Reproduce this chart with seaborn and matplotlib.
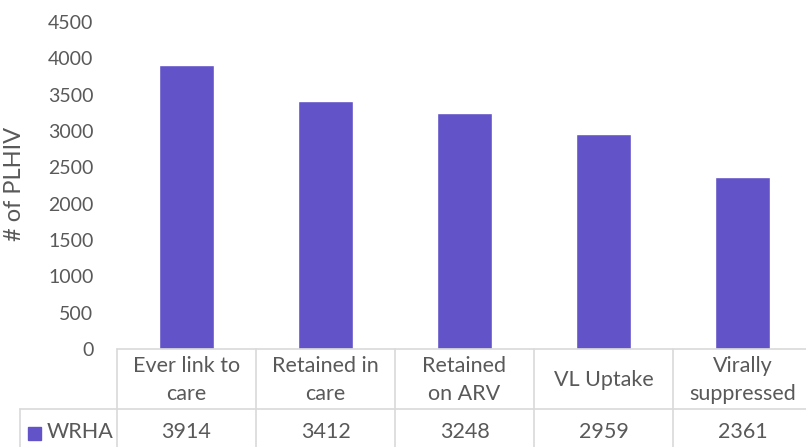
import matplotlib
matplotlib.use("Agg")
import matplotlib.pyplot as plt
import seaborn as sns
import pandas as pd
from matplotlib.lines import Line2D
from matplotlib.patches import Rectangle

categories = ["Ever link to\ncare", "Retained in\ncare", "Retained\non ARV", "VL Uptake", "Virally\nsuppressed"]
values = [3914, 3412, 3248, 2959, 2361]
series_name = "WRHA"
yticks = [0, 500, 1000, 1500, 2000, 2500, 3000, 3500, 4000, 4500]

sns.set_style("white")
plt.rcParams['font.family'] = ['Lato', 'DejaVu Sans']

W, H = 806, 447
fig = plt.figure(figsize=(W / 100, H / 100), dpi=100)
left, right, top, bottom = 117, 812, 22, 349
ax = fig.add_axes([left / W, (H - bottom) / H, (right - left) / W, (bottom - top) / H])

bar_color = "#6253C8"
grey = "#595959"
line_c = "#D9D9D9"

df = pd.DataFrame({"cat": categories, "val": values})
sns.barplot(data=df, x="cat", y="val", color=bar_color, width=0.4, ax=ax, saturation=1)
ax.set_xlim(-0.5, len(categories) - 0.5)
ax.set_ylim(0, 4500)
ax.set_yticks(yticks)
ax.set_yticklabels([str(t) for t in yticks], fontsize=14, color=grey)
ax.tick_params(axis="y", length=0, pad=17)
ax.set_xticks([])
ax.set_xlabel("")
ax.set_ylabel("# of PLHIV", fontsize=17, color=grey)
ax.yaxis.set_label_coords((25 - left) / (right - left), 0.505)
for s in ax.spines.values():
    s.set_visible(False)

# data table below the plot
def fy(py):
    return 1 - py / H

def fx(px):
    return px / W

row1_top, row1_bot, row2_bot = 349, 409, 460
col_w = (right - left) / len(categories)
lines = []
lines.append(((left, right), (row1_top, row1_top)))
lines.append(((20, right), (row1_bot, row1_bot)))
lines.append(((20, 20), (row1_bot, row2_bot)))
for i in range(len(categories) + 1):
    x = left + i * col_w
    lines.append(((x, x), (row1_top, row2_bot)))
for xs, ys in lines:
    fig.add_artist(Line2D([fx(xs[0]), fx(xs[1])], [fy(ys[0]), fy(ys[1])],
                          color=line_c, lw=1.2))

for i, (c, v) in enumerate(zip(categories, values)):
    cx = left + (i + 0.5) * col_w
    fig.text(fx(cx), fy((row1_top + row1_bot) / 2 + 1), c, ha="center", va="center",
             fontsize=15.5, color=grey, linespacing=1.55)
    fig.text(fx(cx), fy(432), str(v), ha="center", va="center", fontsize=15.5, color=grey)

fig.add_artist(Rectangle((fx(28), fy(440)), 13 / W, 13 / H, transform=fig.transFigure,
                         color=bar_color))
fig.text(fx(47), fy(432), series_name, ha="left", va="center", fontsize=15.5, color=grey)

fig.savefig("out.png", dpi=100)
